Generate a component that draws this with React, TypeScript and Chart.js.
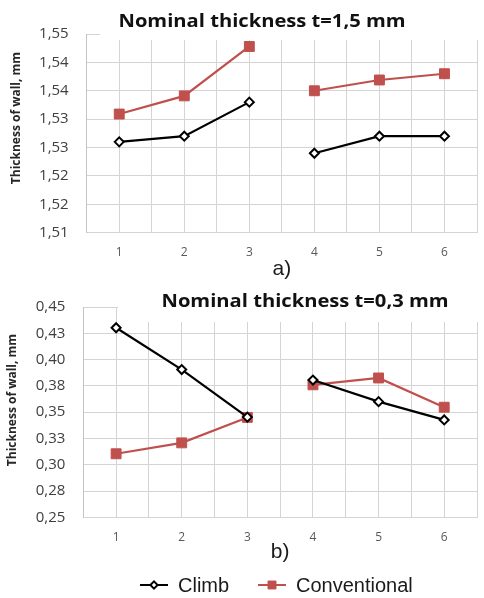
import React, { useEffect, useRef } from 'react';
import { Chart, registerables } from 'chart.js';
import { drawPoint } from 'chart.js/helpers';

Chart.register(...registerables);

// ---------- data ----------
const categories = [1, 2, 3, 4, 5, 6];
const breakAfter = 3; // the lines are interrupted between 3 and 4

const climbA = [1.526, 1.527, 1.533, 1.524, 1.527, 1.527];
const conventionalA = [1.5309, 1.5341, 1.5428, 1.535, 1.5369, 1.538];
const yTickValuesA = [1.51, 1.515, 1.52, 1.525, 1.53, 1.535, 1.54, 1.545];
const yTickLabelsA = ['1,51', '1,52', '1,52', '1,53', '1,53', '1,54', '1,54', '1,55'];

const climbB = [0.4303, 0.3905, 0.3453, 0.3805, 0.36, 0.3426];
const conventionalB = [0.3104, 0.3208, 0.345, 0.376, 0.3825, 0.3547];
const yTickValuesB = [0.25, 0.275, 0.3, 0.325, 0.35, 0.375, 0.4, 0.425, 0.45];
const yTickLabelsB = ['0,25', '0,28', '0,30', '0,33', '0,35', '0,38', '0,40', '0,43', '0,45'];

const seriesNames = ['Climb', 'Conventional'];
const titleA = 'Nominal thickness t=1,5 mm';
const titleB = 'Nominal thickness t=0,3 mm';
const yAxisTitle = 'Thickness of wall, mm';

// ---------- styles ----------
const RED = '#C0504D';
const BLACK = '#000000';
const GRID = '#d4d4d4';
const W = 490;

function toPoints(vals: number[]) {
  const pts: { x: number; y: number | null }[] = [];
  categories.forEach((c, i) => {
    pts.push({ x: c, y: vals[i] });
    if (c === breakAfter) pts.push({ x: c + 0.5, y: null });
  });
  return pts;
}

const climbStyle = {
  borderColor: BLACK,
  backgroundColor: '#ffffff',
  pointStyle: 'rectRot',
  pointRadius: 4.5,
  pointBorderWidth: 2,
  pointBorderColor: BLACK,
  pointBackgroundColor: '#ffffff',
  borderWidth: 2.2,
};
const convStyle = {
  borderColor: RED,
  backgroundColor: RED,
  pointStyle: 'rect',
  pointRadius: 7,
  pointBorderWidth: 1,
  pointBorderColor: RED,
  pointBackgroundColor: RED,
  borderWidth: 2.2,
};

type Layout = {
  height: number;
  left: number;
  right: number;
  top: number;
  bottom: number;
  padBottom: number;
  sub: string;
  title: string;
  titleX: number;
  titleY: number;
  boxes: number[][];
  yTitleX: number;
  yTitleY: number;
  legend: boolean;
  legendY: number;
};

function makeOverlay(L: Layout) {
  return {
    id: 'overlay',
    beforeDatasetsDraw(chart: any) {
      const ctx = chart.ctx;
      ctx.save();
      ctx.fillStyle = '#ffffff';
      for (const b of L.boxes) ctx.fillRect(b[0], b[1], b[2] - b[0], b[3] - b[1]);
      ctx.restore();
    },
    afterDraw(chart: any) {
      const ctx = chart.ctx;
      ctx.save();
      ctx.fillStyle = '#111111';
      ctx.textAlign = 'center';
      ctx.textBaseline = 'middle';
      ctx.save();
      ctx.translate(L.titleX, L.titleY);
      ctx.scale(1.12, 1);
      ctx.font = 'bold 18px "Open Sans"';
      ctx.fillText(L.title, 0, 0);
      ctx.restore();

      ctx.save();
      ctx.translate(L.yTitleX, L.yTitleY);
      ctx.rotate(-Math.PI / 2);
      ctx.font = 'bold 12px "Open Sans"';
      ctx.fillStyle = '#262626';
      ctx.fillText(yAxisTitle, 0, 0);
      ctx.restore();

      if (L.legend) {
        const items = [
          { name: seriesNames[0], st: climbStyle, x0: 140 },
          { name: seriesNames[1], st: convStyle, x0: 258 },
        ];
        ctx.font = '20px "Liberation Sans"';
        ctx.textAlign = 'left';
        for (const it of items) {
          ctx.strokeStyle = it.st.borderColor;
          ctx.lineWidth = 2;
          ctx.beginPath();
          ctx.moveTo(it.x0, L.legendY);
          ctx.lineTo(it.x0 + 28, L.legendY);
          ctx.stroke();
          ctx.fillStyle = it.st.pointBackgroundColor;
          ctx.strokeStyle = it.st.pointBorderColor;
          ctx.lineWidth = it.st.pointBorderWidth;
          drawPoint(
            ctx,
            { pointStyle: it.st.pointStyle as any, radius: it.st.pointRadius * 0.8, rotation: 0, borderWidth: it.st.pointBorderWidth },
            it.x0 + 14,
            L.legendY
          );
          ctx.fillStyle = '#1a1a1a';
          ctx.fillText(it.name, it.x0 + 38, L.legendY + 1);
        }
      }
      ctx.restore();
    },
  };
}

function makeConfig(climb: number[], conv: number[], yVals: number[], yLabels: string[], L: Layout): any {
  const xTickVals: number[] = [];
  for (let v = categories[0] - 0.5; v <= categories[categories.length - 1] + 0.5 + 1e-9; v += 0.5) xTickVals.push(v);
  return {
    type: 'line',
    data: {
      datasets: [
        { label: seriesNames[0], data: toPoints(climb), ...climbStyle, order: 1 },
        { label: seriesNames[1], data: toPoints(conv), ...convStyle, order: 2 },
      ],
    },
    options: {
      responsive: false,
      animation: false,
      spanGaps: false,
      layout: { padding: { left: 0, right: W - L.right, top: L.top, bottom: L.padBottom } },
      plugins: { legend: { display: false }, title: { display: false }, tooltip: { enabled: false } },
      scales: {
        x: {
          type: 'linear',
          min: categories[0] - 0.5,
          max: categories[categories.length - 1] + 0.5,
          afterBuildTicks: (s: any) => {
            s.ticks = xTickVals.map((v) => ({ value: v }));
          },
          afterFit: (s: any) => {
            s.height = L.height - L.padBottom - L.bottom;
          },
          ticks: {
            autoSkip: false,
            maxRotation: 0,
            padding: 13,
            color: '#595959',
            font: { family: '"Open Sans"', size: 12 },
            callback: (v: number) => (Number.isInteger(v) ? String(v) : ''),
          },
          grid: { color: GRID, lineWidth: 1, drawTicks: false },
          border: { display: true, color: GRID },
          title: {
            display: true,
            text: L.sub,
            color: '#1a1a1a',
            font: { family: '"Liberation Sans"', size: 21, lineHeight: 1 },
            padding: { top: 0, bottom: 0 },
          },
        },
        y: {
          type: 'linear',
          min: yVals[0],
          max: yVals[yVals.length - 1],
          afterBuildTicks: (s: any) => {
            s.ticks = yVals.map((v) => ({ value: v }));
          },
          afterFit: (s: any) => {
            s.width = L.left;
          },
          ticks: {
            padding: 18,
            color: '#404040',
            font: { family: '"Open Sans"', size: 15 },
            callback: (_v: number, i: number) => yLabels[i],
          },
          grid: { color: GRID, lineWidth: 1, drawTicks: false },
          border: { display: true, color: '#c4c4c4' },
        },
      },
    },
    plugins: [makeOverlay(L)],
  };
}

const layoutA: Layout = {
  height: 280,
  left: 86.7,
  right: 486.7,
  top: 34,
  bottom: 232.7,
  padBottom: 0,
  sub: 'a)',
  title: titleA,
  titleX: 262,
  titleY: 22,
  boxes: [[100, 0, W, 40]],
  yTitleX: 17,
  yTitleY: 118,
  legend: false,
  legendY: 0,
};

const layoutB: Layout = {
  height: 318,
  left: 83.3,
  right: 485.3,
  top: 10,
  bottom: 237.3,
  padBottom: 35,
  sub: 'b)',
  title: titleB,
  titleX: 305,
  titleY: 21.5,
  boxes: [
    [118, 0, W, 36],
    [143, 0, W, 42],
  ],
  yTitleX: 13,
  yTitleY: 120,
  legend: true,
  legendY: 305,
};

function LineChart({ climb, conv, yVals, yLabels, L }: any) {
  const ref = useRef<HTMLCanvasElement | null>(null);
  useEffect(() => {
    if (!ref.current) return;
    const chart = new Chart(ref.current, makeConfig(climb, conv, yVals, yLabels, L));
    return () => chart.destroy();
  }, []);
  return <canvas ref={ref} width={W} height={L.height} style={{ display: 'block', width: W, height: L.height }} />;
}

export default function App() {
  return (
    <div
      style={{
        position: 'fixed',
        left: 0,
        top: 0,
        width: 484,
        height: 598,
        overflow: 'hidden',
        background: '#ffffff',
      }}
    >
      <LineChart climb={climbA} conv={conventionalA} yVals={yTickValuesA} yLabels={yTickLabelsA} L={layoutA} />
      <LineChart climb={climbB} conv={conventionalB} yVals={yTickValuesB} yLabels={yTickLabelsB} L={layoutB} />
    </div>
  );
}
